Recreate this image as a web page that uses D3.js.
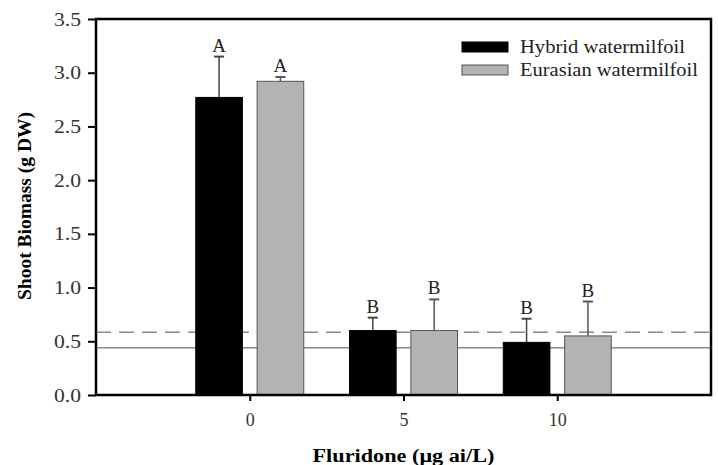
<!DOCTYPE html>
<html>
<head>
<meta charset="utf-8">
<script src="https://cdn.jsdelivr.net/npm/d3@7"></script>
<style>
	body { margin: 0; background: white; }
	text { font-family: "Liberation Serif", "Times New Roman", serif; }
</style>
</head>
<body>
<svg id="chart" width="718" height="465"></svg>
<script>
// data
const doses = ['0', '5', '10']
const seriesNames = ['Hybrid watermilfoil', 'Eurasian watermilfoil']
const hybrid = [2.77, 0.60, 0.49]
const hybridErr = [0.38, 0.12, 0.22]
const eurasian = [2.92, 0.60, 0.55]
const eurasianErr = [0.04, 0.29, 0.32]
const hybridLetters = ['A', 'B', 'B']
const eurasianLetters = ['A', 'B', 'B']
const yTicks = [0, 0.5, 1, 1.5, 2, 2.5, 3, 3.5]
const refDashed = 0.585
const refSolid = 0.44

const svg = d3.select('#chart')
const plotLeft = 96, plotRight = 711, plotTop = 19, plotBottom = 395

const x = d3.scalePoint().domain(doses).range([plotLeft, plotRight]).padding(1)
const inner = d3.scaleBand().domain(['hybrid', 'eurasian']).range([-54, 54]).paddingInner(0.24)
const y = d3.scaleLinear().domain([0, 3.5]).range([plotBottom, plotTop])

const series = [
	{ key: 'hybrid', values: hybrid, err: hybridErr, letters: hybridLetters, fill: '#000', stroke: '#000', errColor: '#444' },
	{ key: 'eurasian', values: eurasian, err: eurasianErr, letters: eurasianLetters, fill: '#b3b3b3', stroke: '#555', errColor: '#555' }
]

// reference lines
svg.append('line')
	.attr('x1', plotLeft).attr('x2', plotRight)
	.attr('y1', y(refDashed)).attr('y2', y(refDashed))
	.attr('stroke', '#8a8a8a').attr('stroke-width', 1.5)
	.attr('stroke-dasharray', '15,8')
svg.append('line')
	.attr('x1', plotLeft).attr('x2', plotRight)
	.attr('y1', y(refSolid)).attr('y2', y(refSolid))
	.attr('stroke', '#8a8a8a').attr('stroke-width', 1.5)

// bars, error bars, letters
series.forEach(s => {
	const g = svg.append('g')
	doses.forEach((d, i) => {
		const bx = x(d) + inner(s.key)
		const cx = bx + inner.bandwidth() / 2
		const capY = y(s.values[i] + s.err[i])
		g.append('line')
			.attr('x1', cx).attr('x2', cx)
			.attr('y1', y(s.values[i])).attr('y2', capY)
			.attr('stroke', s.errColor).attr('stroke-width', 1.5)
		g.append('line')
			.attr('x1', cx - 5).attr('x2', cx + 5)
			.attr('y1', capY).attr('y2', capY)
			.attr('stroke', s.errColor).attr('stroke-width', 2)
		g.append('rect')
			.attr('x', bx).attr('width', inner.bandwidth())
			.attr('y', y(s.values[i])).attr('height', plotBottom - y(s.values[i]))
			.attr('fill', s.fill).attr('stroke', s.stroke).attr('stroke-width', 1)
		g.append('text')
			.attr('x', cx).attr('y', capY - 5)
			.attr('text-anchor', 'middle')
			.attr('font-size', 19)
			.attr('fill', '#222')
			.text(s.letters[i])
	})
})

// y axis
const yAxis = svg.append('g')
	.attr('transform', `translate(${plotLeft},0)`)
	.call(d3.axisLeft(y).tickValues(yTicks).tickFormat(d3.format('.1f')).tickSize(8).tickPadding(7))
yAxis.select('.domain').remove()
yAxis.selectAll('line').attr('stroke', '#000').attr('stroke-width', 2)
yAxis.selectAll('text').attr('font-size', 19).attr('fill', '#333')
	.attr('textLength', 27).attr('lengthAdjust', 'spacingAndGlyphs')

// x axis
const xAxis = svg.append('g')
	.attr('transform', `translate(0,${plotBottom})`)
	.call(d3.axisBottom(x).tickSize(6).tickPadding(12))
xAxis.select('.domain').remove()
xAxis.selectAll('line').attr('stroke', '#000').attr('stroke-width', 2)
xAxis.selectAll('text').attr('font-size', 18).attr('fill', '#333')

// frame
svg.append('rect')
	.attr('x', plotLeft).attr('y', plotTop)
	.attr('width', plotRight - plotLeft).attr('height', plotBottom - plotTop)
	.attr('fill', 'none').attr('stroke', '#000').attr('stroke-width', 2.5)

// legend
const legend = svg.append('g')
series.forEach((s, i) => {
	legend.append('rect')
		.attr('x', 462).attr('y', 42 + i * 23)
		.attr('width', 46).attr('height', 10)
		.attr('fill', s.fill).attr('stroke', s.stroke).attr('stroke-width', 1)
	legend.append('text')
		.attr('x', 520).attr('y', 53 + i * 23)
		.attr('font-size', 18)
		.attr('fill', '#222')
		.attr('textLength', i === 0 ? 165 : 178)
		.attr('lengthAdjust', 'spacingAndGlyphs')
		.text(seriesNames[i])
})

// axis titles
svg.append('text')
	.attr('x', (plotLeft + plotRight) / 2).attr('y', 462)
	.attr('text-anchor', 'middle')
	.attr('font-size', 18).attr('font-weight', 'bold')
	.attr('textLength', 182).attr('lengthAdjust', 'spacingAndGlyphs')
	.text('Fluridone (μg ai/L)')

svg.append('text')
	.attr('transform', `translate(31,${(112 + 300) / 2}) rotate(-90)`)
	.attr('text-anchor', 'middle')
	.attr('font-size', 18).attr('font-weight', 'bold')
	.attr('textLength', 188).attr('lengthAdjust', 'spacingAndGlyphs')
	.text('Shoot Biomass (g DW)')
</script>
</body>
</html>
